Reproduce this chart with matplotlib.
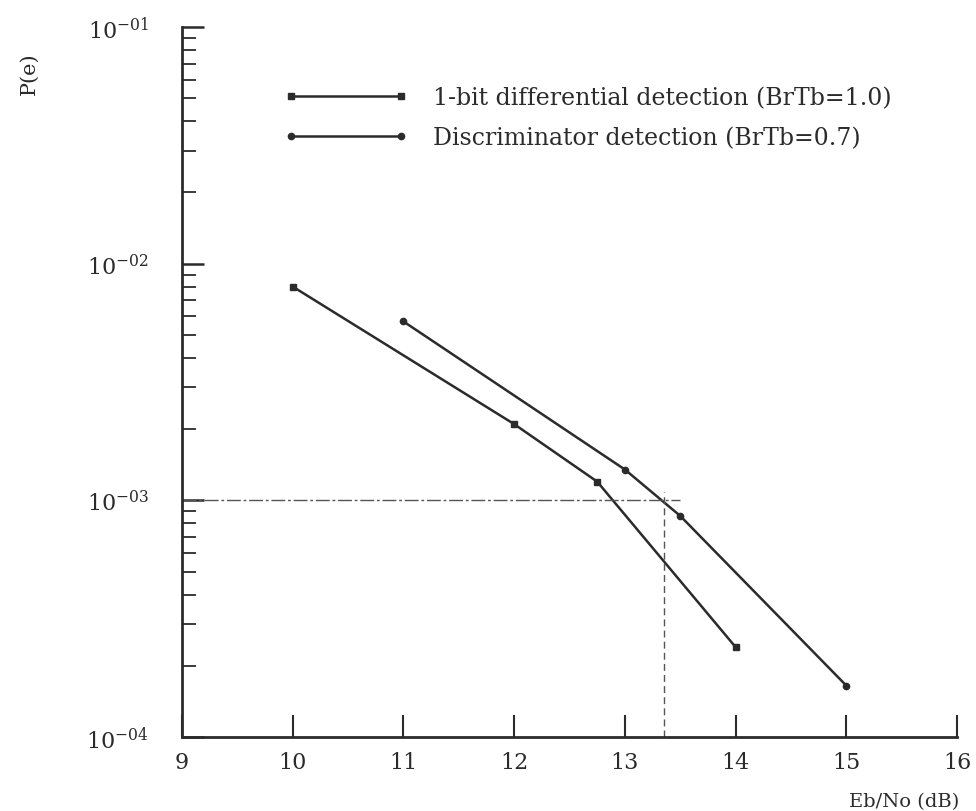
import numpy as np
import matplotlib
matplotlib.use("Agg")
import matplotlib.pyplot as plt
from matplotlib.ticker import LogLocator, NullFormatter

# valores (P(e) x Eb/No)
ebno_diff = [10.0, 12.0, 12.75, 14.0]
pe_diff = [8.0e-3, 2.1e-3, 1.2e-3, 2.4e-4]
ebno_disc = [11.0, 13.0, 13.5, 15.0]
pe_disc = [5.7e-3, 1.35e-3, 8.6e-4, 1.65e-4]

x_ticks = [9, 10, 11, 12, 13, 14, 15, 16]
y_ticks = [1e-4, 1e-3, 1e-2, 1e-1]
y_tick_labels = [r"$10^{-04}$", r"$10^{-03}$", r"$10^{-02}$", r"$10^{-01}$"]
label_diff = "1-bit differential detection (BrTb=1.0)"
label_disc = "Discriminator detection (BrTb=0.7)"

ref_pe = 1e-3        # nivel de referencia (linha horizontal)
ref_ebno = 13.35     # Eb/No correspondente (linha vertical)
ref_x_end = 13.5

TINTA = "#2b2b2b"
CINZA = "#555555"

plt.rcParams["font.family"] = ["DejaVu Serif"]
plt.rcParams["mathtext.fontset"] = "dejavuserif"

fig = plt.figure(figsize=(9.76, 8.12), dpi=100)
ax = fig.add_axes([0.1865, 0.0911, 0.794, 0.8744])
ax.set_yscale("log")
ax.set_xlim(9, 16)
ax.set_ylim(1e-4, 1e-1)

# curvas
ax.plot(ebno_diff, pe_diff, color=TINTA, lw=1.8, marker="s", ms=5,
        label=label_diff)
ax.plot(ebno_disc, pe_disc, color=TINTA, lw=1.8, marker="o", ms=4.5,
        label=label_disc)

# linhas de referencia
ax.plot([9, ref_x_end], [ref_pe, ref_pe], color=CINZA, lw=1.0,
        ls=(0, (10, 2, 2, 2)))
ax.plot([ref_ebno, ref_ebno], [1e-4, 1.08e-3], color=CINZA, lw=1.0,
        ls=(0, (5, 3)))

# eixos
for s in ("top", "right"):
    ax.spines[s].set_visible(False)
for s in ("left", "bottom"):
    ax.spines[s].set_color(TINTA)
    ax.spines[s].set_linewidth(2)

ax.set_xticks(x_ticks)
ax.tick_params(axis="x", direction="in", length=16, width=1.5,
               colors=TINTA, labelsize=16, pad=10)
ax.set_yticks(y_ticks, y_tick_labels)
ax.yaxis.set_minor_locator(LogLocator(base=10, subs=np.arange(2, 10)))
ax.yaxis.set_minor_formatter(NullFormatter())
ax.tick_params(axis="y", which="major", direction="in", length=16,
               width=1.8, colors=TINTA, labelsize=16, pad=24)
ax.tick_params(axis="y", which="minor", direction="in", length=10,
               width=1.3, colors=TINTA)

ax.set_ylabel("P(e)", fontsize=15, color=TINTA)
ax.yaxis.set_label_coords(-0.185, 0.935)
ax.set_xlabel("Eb/No (dB)", fontsize=14, color=TINTA)
ax.xaxis.set_label_coords(0.932, -0.078)

ax.legend(loc="upper left", bbox_to_anchor=(0.291, 0.893),
          bbox_transform=fig.transFigure, numpoints=2, frameon=False,
          fontsize=17, handlelength=5.25, handletextpad=1.05,
          labelspacing=0.75, borderpad=0, borderaxespad=0,
          labelcolor=TINTA)

fig.savefig("out.png", dpi=100, facecolor="white")
